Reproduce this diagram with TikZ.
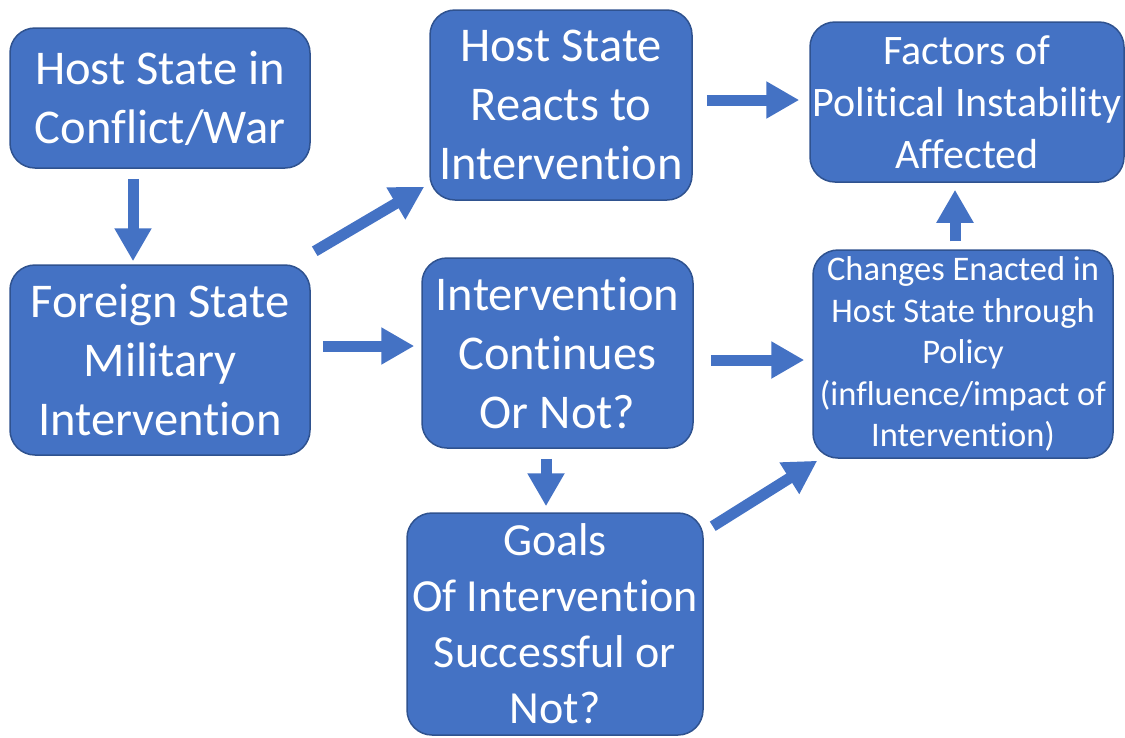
\documentclass[tikz,border=0pt]{standalone}
\usepackage{fontspec}
\setmainfont{Carlito}[Ligatures=NoCommon]
\usetikzlibrary{arrows.meta,calc}
\definecolor{boxblue}{HTML}{4472C4}
\definecolor{boxedge}{HTML}{2F528F}
\tikzset{
  box/.style={draw=boxedge, line width=1.5pt, fill=boxblue, rounded corners=25pt,
    text=white, align=center, inner sep=0pt},
  big/.style={font=\fontsize{48.5}{59}\selectfont},
  mid/.style={font=\fontsize{42}{52}\selectfont},
  small/.style={font=\fontsize{34.5}{41.5}\selectfont},
  blk/.style={draw=boxblue, line width=11pt, -{Triangle[width=35pt,length=33pt]}, color=boxblue}
}
\begin{document}
\begin{tikzpicture}[x=1pt,y=-1pt]
\useasboundingbox (0,0) rectangle (1125,737);
\clip (0,0) rectangle (1125,737);
\node[box,big,minimum width=300pt,minimum height=140pt] (h1) at (160,98) {Host State in\\Conflict/War};
\node[box,big,minimum width=300pt,minimum height=190pt] (h2) at (160,360) {Foreign State\\Military\\Intervention};
\node[box,big,minimum width=262pt,minimum height=190pt] (h3) at (561,105) {Host State\\Reacts to\\Intervention};
\node[box,mid,minimum width=314pt,minimum height=160pt] (h4) at (967,102) {Factors of\\Political Instability\\Affected};
\node[box,big,minimum width=271pt,minimum height=190pt] (h5) at (557.5,353) {Intervention\\Continues\\Or Not?};
\node[box,font=\fontsize{46}{56}\selectfont,minimum width=296pt,minimum height=222pt] (h6) at (555,624) {Goals\\Of Intervention\\Successful or\\Not?};
\node[box,small,minimum width=300pt,minimum height=208pt] (h7) at (963,354) {Changes Enacted in\\Host State through\\Policy\\(influence/impact of\\Intervention)};
\draw[blk] ($(h1.south)+(-27,10)$) -- ($(h2.north)+(-27,-3)$);
\draw[blk] ($(h2.north east)+(4,-13)$) -- ($(h3.south west)+(-5,-14)$);
\draw[blk] ($(h3.east)+(14,-5)$) -- ($(h4.west)+(-10,-2)$);
\draw[blk] ($(h2.east)+(12,-14)$) -- ($(h5.west)+(-7,-7)$);
\draw[blk] ($(h5.east)+(17,7)$) -- ($(h7.west)+(-8,6)$);
\draw[blk] ($(h5.south)+(-11.5,10)$) -- ($(h6.north)+(-9,-6)$);
\draw[blk] ($(h7.north)+(-8,-8)$) -- ($(h4.south)+(-12,7)$);
\draw[blk] ($(h6.north east)+(9,14)$) -- ($(h7.south west)+(5,2)$);
\end{tikzpicture}
\end{document}
